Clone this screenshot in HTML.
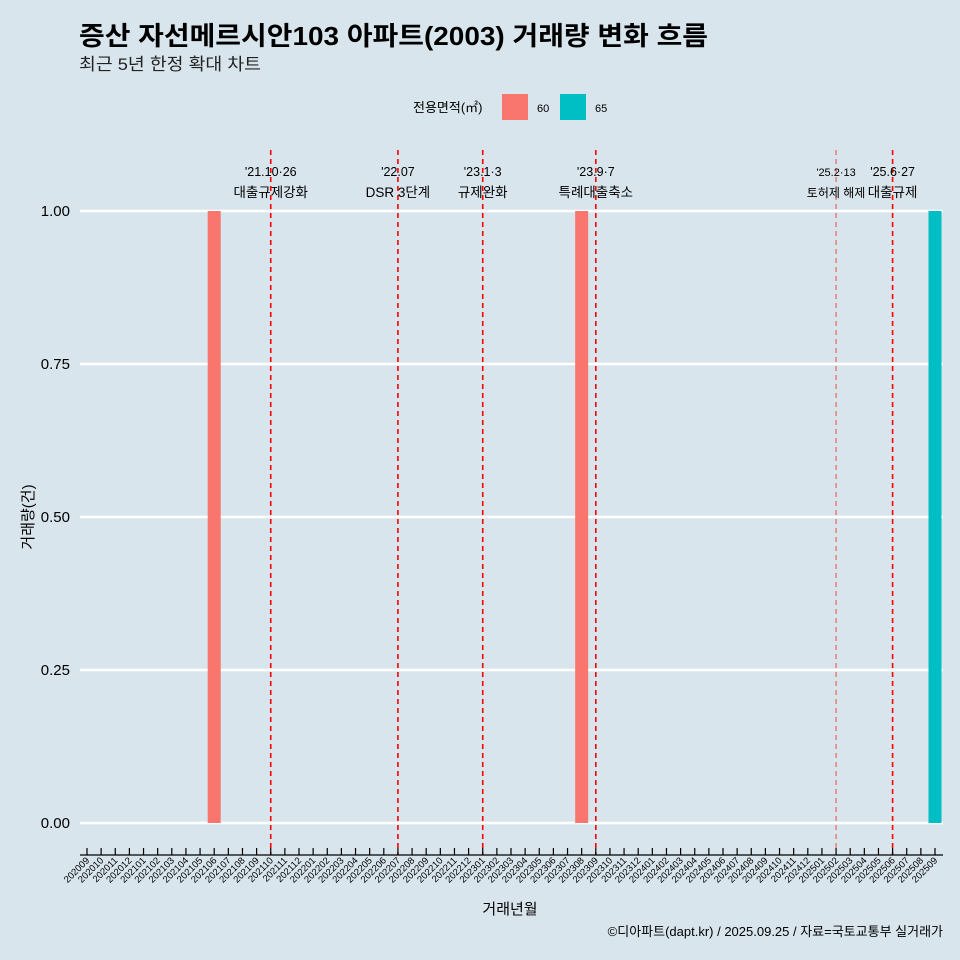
<!DOCTYPE html>
<html><head><meta charset="utf-8">
<style>
body{margin:0;background:#d8e5ec;}
svg{display:block;font-family:"Liberation Sans","Noto Sans CJK KR",sans-serif;}
</style></head>
<body>
<svg id="c" width="960" height="960" viewBox="0 0 960 960">
<rect width="960" height="960" fill="#d8e5ec"/>
<text x="79" y="45" font-size="26" font-weight="bold" fill="#000" textLength="629" lengthAdjust="spacingAndGlyphs">증산 자선메르시안103 아파트(2003) 거래량 변화 흐름</text>
<text x="79" y="70" font-size="17" fill="#222" textLength="182" lengthAdjust="spacingAndGlyphs">최근 5년 한정 확대 차트</text>
<g>
<text x="413" y="112" font-size="13">전용면적(㎡)</text>
<rect x="502" y="94" width="26" height="26" fill="#f8766d"/>
<text x="537" y="112" font-size="11">60</text>
<rect x="560" y="94" width="26" height="26" fill="#00bfc4"/>
<text x="595" y="112" font-size="11">65</text>
</g>
<g id="grid"></g><g id="bars"></g><g id="vlines"></g><g id="axes"></g>
<text x="510" y="914" font-size="15" text-anchor="middle">거래년월</text>
<text transform="translate(33,517) rotate(-90)" font-size="15" text-anchor="middle">거래량(건)</text>
<text x="943" y="936" font-size="13" text-anchor="end">©디아파트(dapt.kr) / 2025.09.25 / 자료=국토교통부 실거래가</text>
</svg>
<script>
const months=[];
for(let y=2020,m=9;!(y===2025&&m===10);){months.push(''+y+(m<10?'0':'')+m);m++;if(m>12){m=1;y++;}}
const barMonths=['202106','202308','202509'];
const barValues=[1,1,1];
const barSeries=['60','60','65'];
const yTicks=[0,0.25,0.5,0.75,1];
const yTickLabels=['0.00','0.25','0.50','0.75','1.00'];
const eventMonths=['202110','202207','202301','202309','202502','202506'];
const eventDates=["'21.10·26","'22.07","'23.1·3","'23.9·7","'25.2·13","'25.6·27"];
const eventNames=['대출규제강화','DSR 3단계','규제완화','특례대출축소','토허제 해제','대출규제'];
const colors={'60':'#f8766d','65':'#00bfc4'};
const NS='http://www.w3.org/2000/svg';
const x=i=>87+i*(935-87)/(months.length-1);
const xm=m=>x(months.indexOf(m));
const y=v=>823-v*(823-211);
function mk(t,a,p){const e=document.createElementNS(NS,t);for(const k in a)e.setAttribute(k,a[k]);document.getElementById(p).appendChild(e);return e;}
yTicks.forEach((v,i)=>{
 const l=mk('line',{x1:80,x2:943,y1:y(v),y2:y(v),stroke:'#fff','stroke-width':2.5},'grid');
 
 
 const t=mk('text',{x:70,y:y(v)+5,'font-size':15,'text-anchor':'end'},'grid');t.textContent=yTickLabels[i];
 
 
});
barMonths.forEach((m,i)=>{
 const r=mk('rect',{x:xm(m)-6.5,y:y(barValues[i]),width:13,height:y(0)-y(barValues[i]),fill:colors[barSeries[i]]},'bars');
 
 
});
eventMonths.forEach((m,i)=>{
 const xx=xm(m);const thin=m==='202502';
 const l=mk('line',{x1:xx,x2:xx,y1:150,y2:855,stroke:'#ff0000','stroke-width':thin?1:1.6,'stroke-dasharray':'5,4',opacity:thin?0.7:1},'vlines');
 
 
 const fs=thin?11:12.5;
 const t1=mk('text',{x:xx,y:176,'font-size':fs,'text-anchor':'middle'},'vlines');t1.textContent=eventDates[i];
 
 
 const t2=mk('text',{x:xx,y:197,'font-size':fs+1,'text-anchor':'middle'},'vlines');t2.textContent=eventNames[i];
 
 
});
const ax=mk('line',{x1:80,x2:943,y1:855,y2:855,stroke:'#000','stroke-width':1.3},'axes');


months.forEach((m,i)=>{
 const tk=mk('line',{x1:x(i),x2:x(i),y1:848,y2:855,stroke:'#000','stroke-width':1.2},'axes');
 
 
 const t=mk('text',{transform:`translate(${x(i)+3},861) rotate(-45)`,'font-size':9.5,'text-anchor':'end'},'axes');t.textContent=m;
 
 
});
</script>
</body></html>
